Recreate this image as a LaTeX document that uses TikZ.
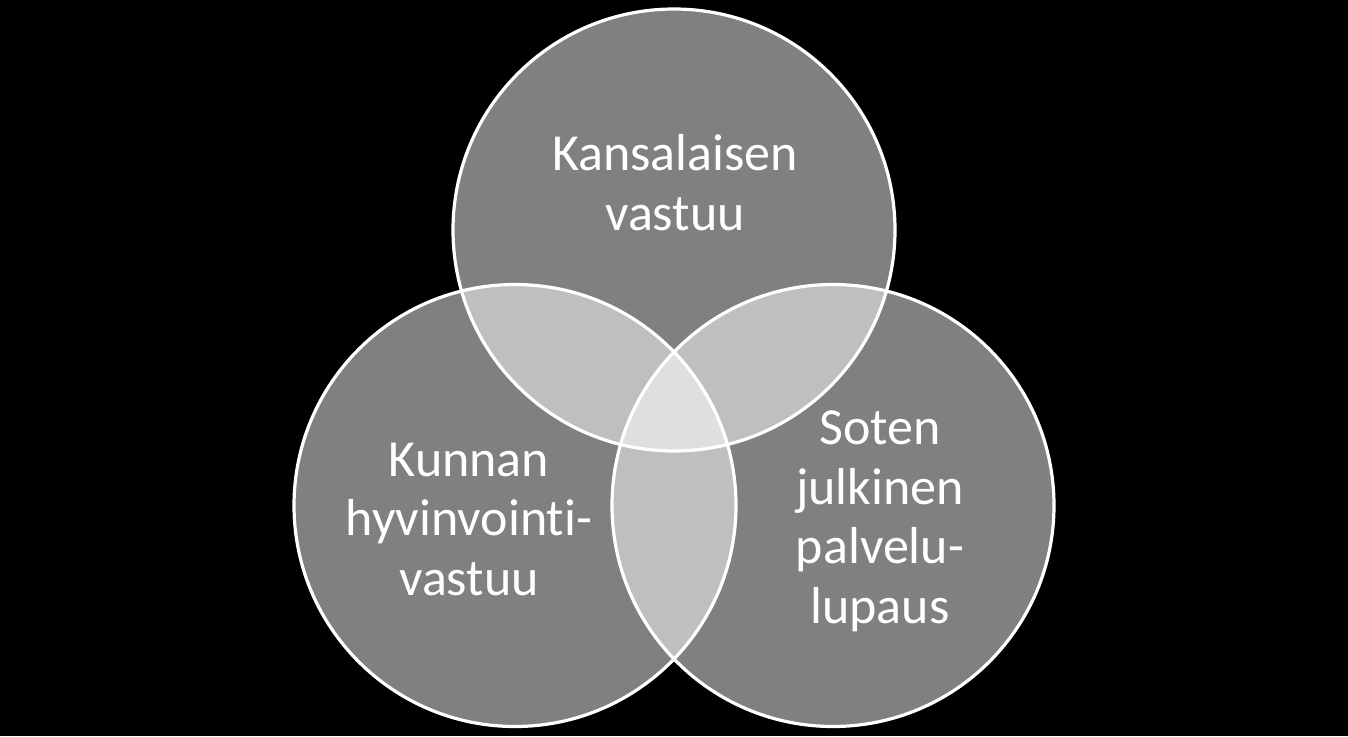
\documentclass[tikz,border=0pt]{standalone}
\usepackage{fontspec}
\setmainfont{Carlito}[Ligatures={NoCommon}]
\begin{document}
\begin{tikzpicture}[x=1pt,y=-1pt,
  venn/.style={circle, minimum size=442pt, inner sep=0pt, fill=white, fill opacity=0.5},
  ring/.style={draw=white, line width=3.2pt},
  lbl/.style={text=white, align=center, font=\fontsize{52}{59.5}\selectfont, inner sep=0pt, anchor=base}]
\fill[black] (0,0) rectangle (1348,736);
\useasboundingbox (0,0) rectangle (1348,736);
\node[venn] (K) at (674,230) {};
\node[venn] (L) at (515,505.5) {};
\node[venn] (R) at (833,505.5) {};
\draw[ring] (K.center) circle[radius=221];
\draw[ring] (L.center) circle[radius=221];
\draw[ring] (R.center) circle[radius=221];
\node[lbl] (tK) at (675,230) {Kansalaisen\\vastuu};
\node[lbl] (tL) at (469,595) {Kunnan\\hyvinvointi-\\vastuu};
\node[lbl] (tR) at (880,623) {Soten\\julkinen\\palvelu-\\lupaus};
\end{tikzpicture}
\end{document}
